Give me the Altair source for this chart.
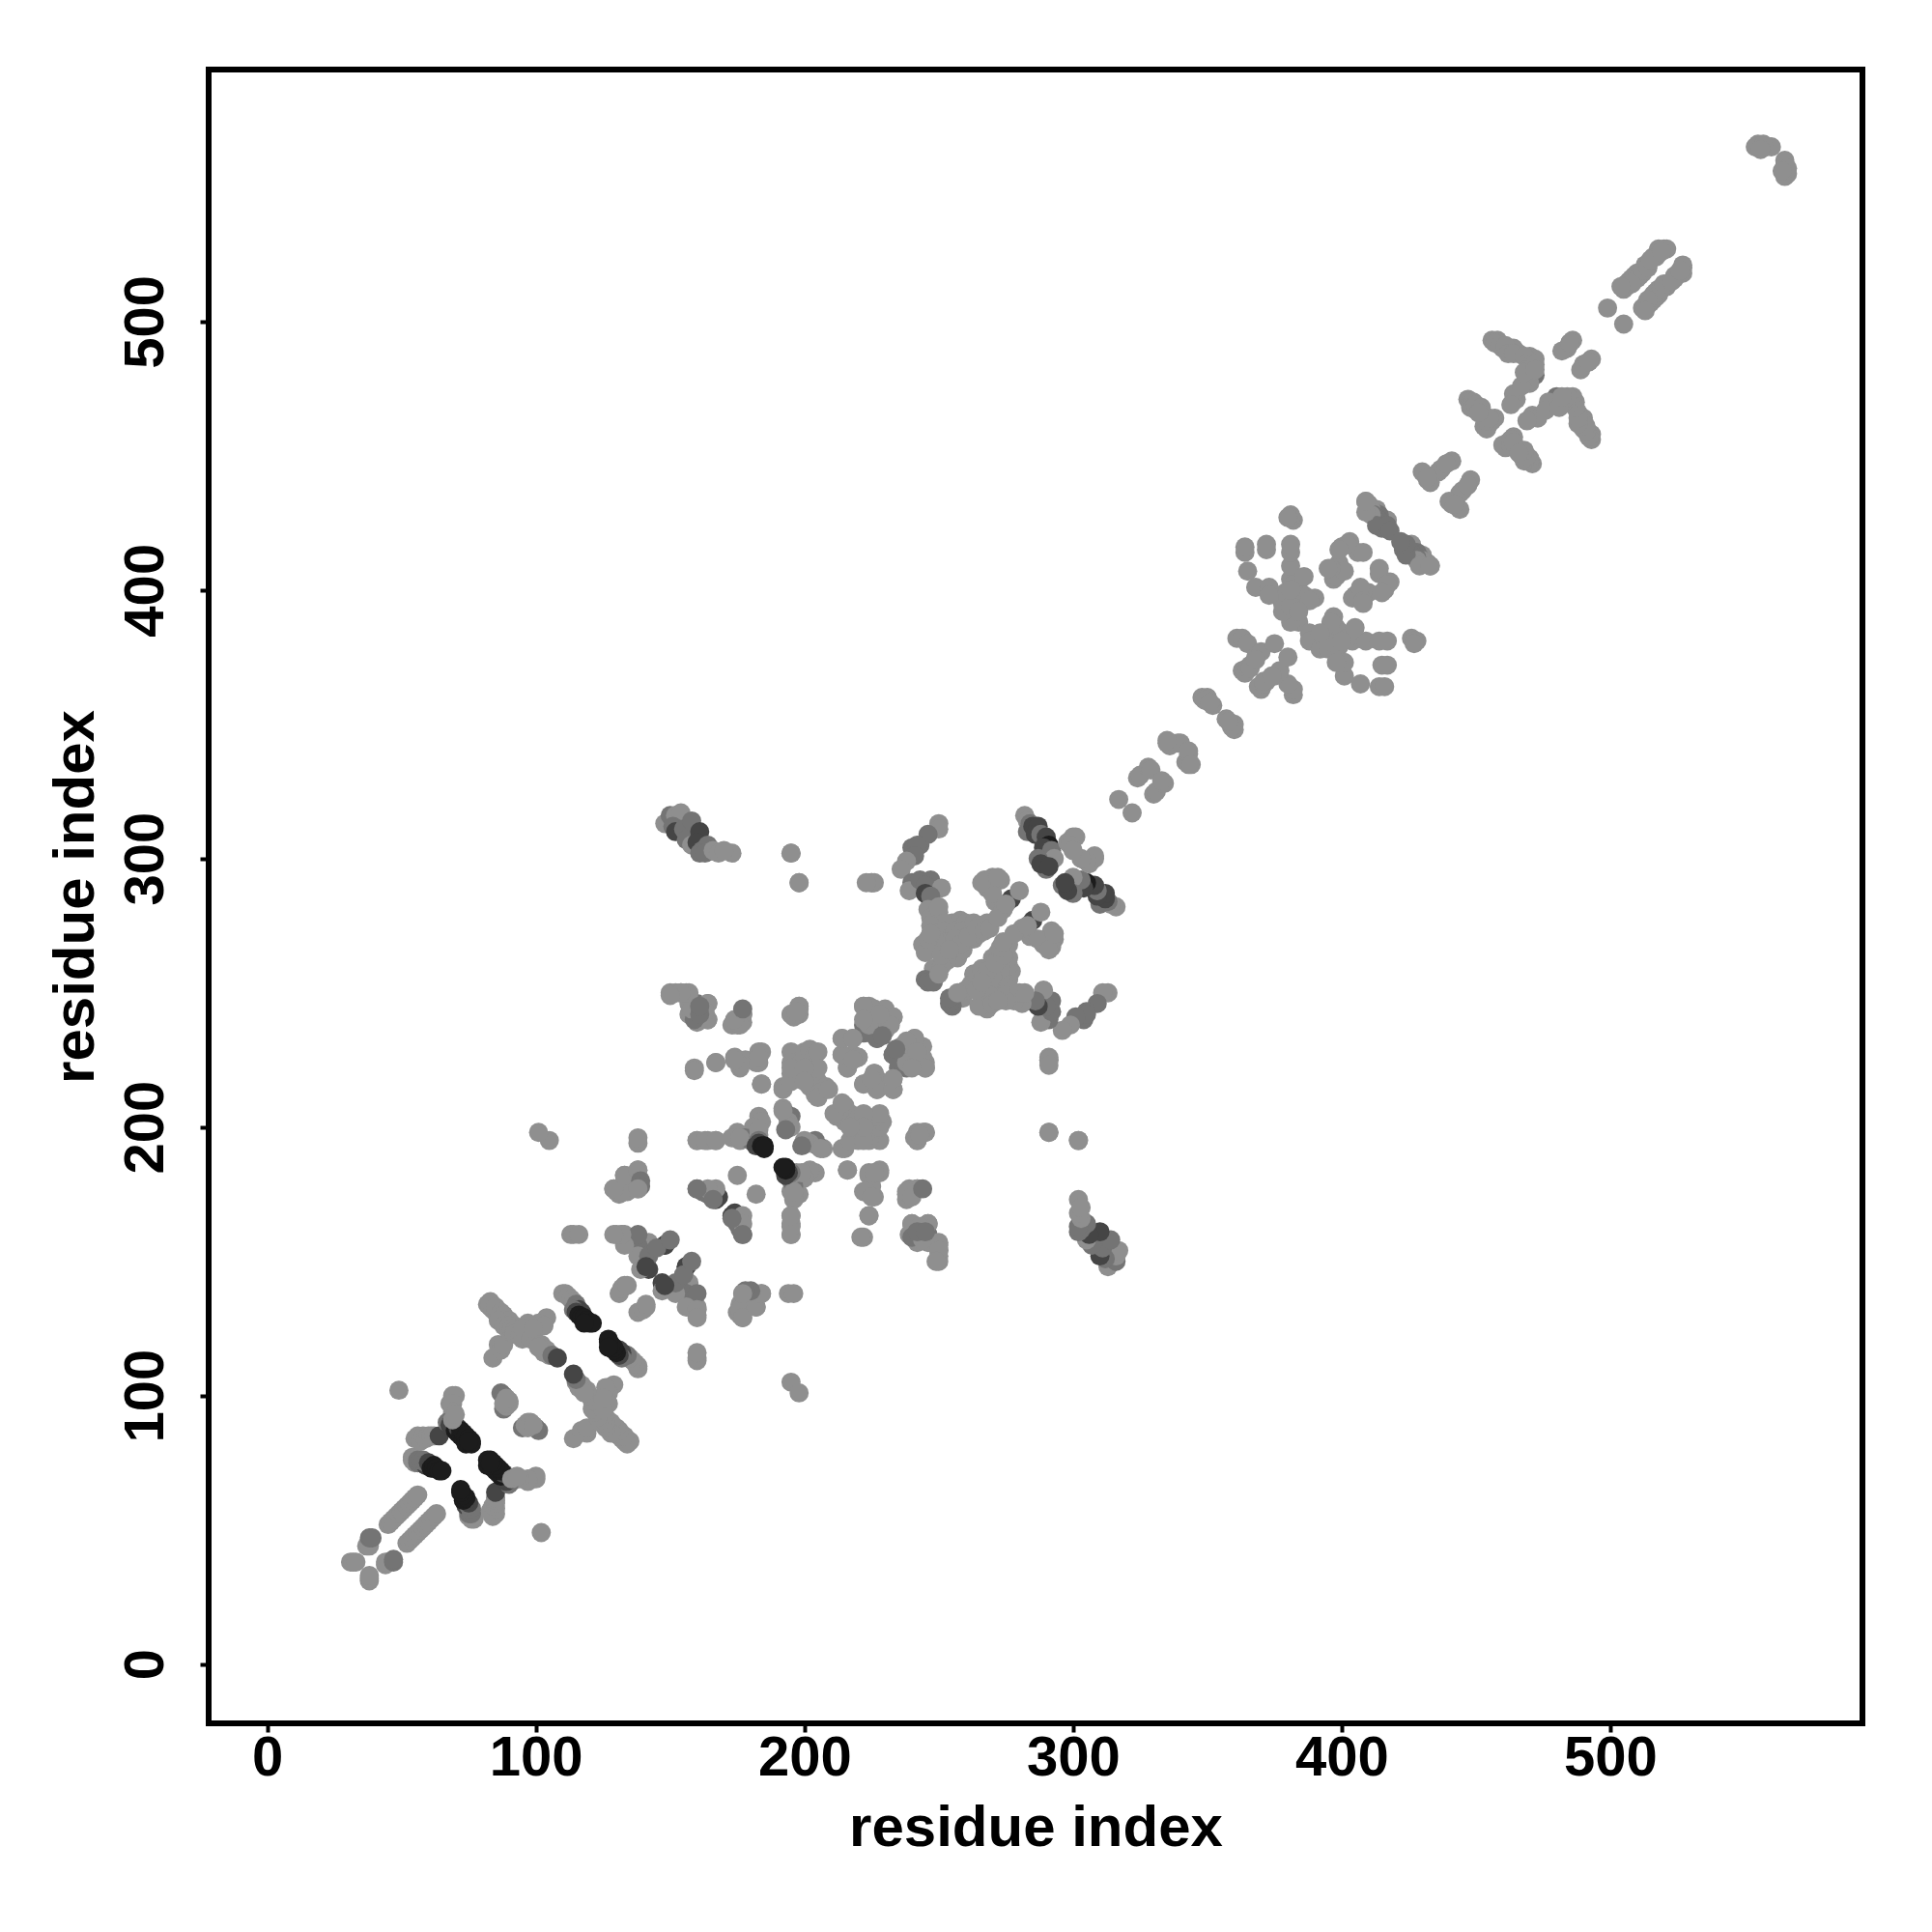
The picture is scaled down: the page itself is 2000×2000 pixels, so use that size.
import altair as alt
import pandas as pd

# (residue i, residue j, strength 0..3); the contact map is symmetric
strand_a = [(31,38,0),(32,38,0),(33,38,0),(37,44,0),(38,44,0),(38,47,1),(39,47,1),
    (45,52,0),(46,53,0),(47,54,0),(48,55,0),(49,56,0),(50,57,0),(51,58,0),(52,59,0),(53,60,0),(54,61,0),(55,62,0),(56,63,0)]
strand_b = [(49,102,0),(54,77,0),(55,77,0),(55,75,0),(54,76,0),(56,75,1),(57,75,1),(58,75,1),(59,74,2),(60,74,2),(56,76,1),(57,76,1),(58,76,1),(59,75,1),(60,75,2),(61,74,2),
    (61,73,3),(62,73,3),(62,74,3),(63,73,3),(64,72,3),(65,72,3),(56,85,0),(55,84,0),(57,83,0),(58,85,0),(59,84,0),(60,85,0),(61,85,0),(62,85,0),(64,85,2),
    (69,100,0),(70,100,0),(68,97,0),(69,97,0),(69,94,0),(68,91,0),(67,90,1),(69,90,1),(68,89,2),(69,88,2),(70,89,2),(70,87,3),(71,86,3),(71,88,2),(72,85,3),(72,87,3),(73,84,3),(73,86,3),(74,83,3),(74,85,3),(74,82,3),(75,84,3),
    (76,83,3),(76,82,3),(75,83,3),(69,91,0),(70,93,0),(87,101,1),(88,100,1),(88,95,1),(89,96,0),(90,98,0),(90,97,0),(88,97,0),(89,99,0)]
cross_a = [(84,114,0),(86,119,0),(87,117,0),(88,119,0),(82,134,0),(83,133,0),(84,132,0),(85,131,0),(86,130,0),(87,129,0),(88,128,0),(89,127,0),
    (83,135,0),(85,133,0),(87,131,0),(88,130,0),(90,128,0),(86,128,0),(88,126,0),(90,124,0),(92,126,0),
    (90,126,0),(91,125,0),(92,124,0),(92,123,0),(94,122,0),(95,121,0),(104,129,0),(101,127,0),(97,127,0),(95,125,0),(98,121,0),(100,120,0),(103,126,0),(99,125,0),
    (102,119,0),(104,117,0),(105,115,0),(103,116,0),(101,118,0),(106,115,1),(108,114,2),
    (110,138,0),(111,138,0),(112,137,0),(113,136,0),(114,135,0),(115,134,1),(116,132,2),(117,131,2),(114,132,1),(115,131,2),(116,130,3),(117,129,3),(118,129,3),(119,128,3),(120,127,3),(121,127,3),(118,127,3),
    (113,160,0),(114,160,0),(116,160,0),(130,160,0),(132,160,0),(133,160,0),(138,159,1),(133,157,0),(142,157,0),(148,156,2),(138,156,1),
    (139,154,1),(141,152,1),(138,152,0),(142,147,2),(139,147,0),(156,148,2),(133,141,0),(131,138,0),(132,140,0),(134,141,0),
    (142,152,1),(141,148,2),(138,160,1),(133,156,0),(132,160,0),(129,160,0),(145,155,1),(150,158,1)]
cross_b = [(177,138,0),(180,138,0),(184,138,0),(194,138,0),(196,138,0),(175,131,0),(177,129,0),(182,133,0),(180,137,1),(178,137,0),(176,134,0),
    (105,195,0),(101,198,0),(130,176,0),(132,176,0),(129,177,0),(133,182,0),(138,184,0),(139,180,1),(139,178,1),(138,177,0),
    (160,177,1),(162,176,1),(168,174,2),(165,176,0),(164,175,1),(175,182,0),(167,173,2),(167,177,0),(164,177,0),(160,177,1),(166,173,1),
    (167,195,0),(164,195,0),(160,195,0)]
far_a = [(148,313,0),(150,316,1),(152,316,0),(154,317,0),(151,312,1),(152,310,2),(155,311,1),(158,314,1),(156,307,1),(158,305,0),(161,310,2),
    (160,306,2),(162,303,1),(164,305,1),(161,302,1),(163,302,1),(166,303,0),(168,302,0),(173,302,0),(170,303,0),
    (195,302,0),(198,291,0),(225,291,0),(226,291,0)]
core_a = [(250,313,0),(250,311,0),(246,309,1),(243,305,1),(240,304,1),(242,305,1),(241,301,1),(238,299,0),(236,296,0),(240,291,1),(239,288,0),
    (243,292,1),(247,292,1),(245,290,1),(251,289,0),(247,284,1),(245,287,2),(247,286,1),(246,281,0),(247,278,0),(250,280,0),(248,276,0),(250,282,0),
    (255,276,0),(252,276,0),(258,277,0),(260,276,0),(263,276,0),(265,275,0),(268,276,0),(247,275,0),(249,272,0),(252,273,0),(255,271,0),(258,271,0),
    (244,268,0),(245,265,0),(251,267,0),(253,269,0),(256,267,0),(260,269,0),(263,270,0),(265,272,0),(255,264,0),(257,263,0),(259,266,0),(253,262,0),
    (248,259,0),(251,260,0),(245,255,1),(246,254,1),(248,254,1),(250,257,0),
    (256,273,0),(259,273,0),(262,272,0),(254,269,0),(256,270,0),(258,268,0),(261,271,0),(249,269,0),(251,264,0),(254,266,0),(246,270,0),(247,272,0),(264,274,0),(267,273,0),(269,274,0),
    (267,292,0),(270,293,0),(273,292,0),(268,289,0),(271,284,0),(270,287,0),(274,281,0),(272,278,0),(277,285,2),(280,288,0),(275,283,0),(266,291,0),(272,293,0),
    (282,316,0),(283,314,0),(284,313,1),(283,310,1),(285,312,2),(287,312,2),(286,309,2),(288,309,1),(290,308,2),(291,305,3),(289,304,2),(292,303,1),
    (293,300,0),(287,300,1),(290,296,1),(288,298,2),(291,297,2),(300,308,0),(299,305,0),(298,306,0),(308,301,0),(305,299,0),(303,300,0)]
mid_a = [(150,250,0),(152,250,0),(154,250,0),(156,250,0),(157,246,0),(160,246,1),(164,246,1),(157,242,0),(160,239,0),(162,241,0),(164,240,0),(158,243,0),
    (177,242,1),(175,238,0),(176,240,0),(173,238,0),(177,239,0),(195,242,0),(198,245,0),(198,242,0),(196,241,0),
    (159,222,0),(167,224,0),(174,226,0),(176,222,0),(178,225,0),(183,228,0),(182,224,0),(184,216,0),(192,215,0),(195,228,0),(195,224,0),(195,220,0),(198,223,0),
    (200,228,0),(202,229,0),(204,227,0),(204,222,0),(200,218,0),(202,215,0),(205,217,0),(208,215,0),(204,212,0),(206,213,0),(200,221,0),(197,219,0),
    (192,214,0),(195,217,0),(195,222,0),(205,228,0),(205,222,0),(205,211,0),(209,214,0),(200,222,0),(200,217,0),
    (222,245,0),(224,245,0),(226,244,0),(230,244,0),(233,241,0),(228,239,0),(225,240,0),(222,238,1),(224,236,1),(227,233,1),(222,235,1),
    (214,233,0),(218,233,0),(214,227,0),(220,226,0),(216,222,0),(218,227,0),(226,220,0),(222,216,0),(227,214,0),(225,218,0),(233,214,0),(233,218,0),
    (241,233,0),(236,230,0),(238,232,0),(233,227,1),(235,225,1),(238,224,0),(244,225,0),(245,222,0),(242,228,0),(240,222,0),(234,229,1)]
mid_b = [(192,207,0),(194,203,1),(193,205,1),(195,204,1),(183,204,0),(184,202,0),(181,200,0),(175,198,0),(173,196,0),(176,195,0),(160,195,0),(163,195,0),(167,195,0),
    (180,195,1),(178,196,1),(176,196,0),(183,197,0),(183,199,0),(194,202,0),(192,206,0),(195,200,0),(193,199,1),
    (198,244,0),(195,242,0),(198,245,0),(197,243,0),(225,291,0),(223,291,0),(198,291,0),(195,302,0),
    (216,184,0),(224,183,0),(228,184,0),(226,183,0),(223,176,0),(225,174,0),(224,167,0),(221,159,0),(242,177,0),(238,176,0),(240,174,0),(244,177,1),
    (240,164,0),(246,164,0),(243,163,0),(240,159,1),(244,158,0),(250,157,0),(250,154,0),(249,150,0),(242,161,1),(245,161,1),
    (183,195,1),(182,193,2),(183,194,2),(184,193,3),(185,193,3),(185,192,3)]
upper_a = [(317,322,0),(324,330,0),(325,331,0),(328,334,0),(329,333,0),(335,343,0),(336,342,0),(339,343,0),(340,343,0),(335,344,0),
    (348,360,0),(350,360,0),(352,357,0),(349,359,0),(351,358,0)]
upper_b = [(361,382,0),(363,382,0),(365,380,0),(363,370,0),(364,369,0),(365,371,0),(366,372,0),(368,375,0),(370,377,0),(366,371,0),(375,380,0),(368,374,0),
    (384,388,0),(381,388,0),(378,392,0),(380,397,0),(386,398,0),(390,397,0),(385,395,0),(383,393,0),(381,404,0),(381,409,0),(381,414,0),(381,417,0),(381,428,0),(382,426,0),
    (383,398,0),(384,400,0),(388,396,0),(382,402,0),(378,395,0),(379,399,0),(381,394,0),(384,392,0),
    (364,414,0),(364,416,0),(372,415,0),(372,417,0),(365,407,0),(368,401,0),(373,401,0),(373,398,0),(386,405,0),(381,400,0),
    (398,407,0),(400,416,0),(403,418,0),(406,414,0),(397,404,0),(399,410,0),(398,405,0),(401,407,0),(396,408,0),(408,414,0),(402,417,0),(399,415,0),(395,408,0),
    (409,433,0),(413,430,0),(417,426,0),(413,426,1),(410,431,0),(415,423,1),(414,428,1),(412,429,1),(416,424,1),(410,432,0),(411,430,0),(412,428,1),(414,426,1),(415,425,1),(411,428,0),(413,424,1),
    (417,424,1),(418,422,1),(409,429,0),(409,433,0),(381,427,0),(380,427,0)]
upper_c = [(431,443,0),(432,441,0),(430,444,0),(436,444,0),(441,448,0),(433,440,0),(437,445,0),(432,442,0),(439,447,0),
    (447,471,0),(448,470,0),(449,470,0),(451,468,0),(453,465,0),(457,464,0),(453,461,0),(455,462,0),(454,460,0),(450,467,0),(456,463,0),
    (448,468,0),(449,468,0),(450,469,0),(452,466,0),(454,463,0),(455,464,0),(452,468,0),(451,466,0),
    (456,493,0),(458,493,0),(460,490,0),(464,490,0),(466,488,0),(470,487,0),(472,486,0),(472,480,1),(469,479,0),(465,471,0),(464,473,0),(463,469,0),(470,477,0),(467,476,0),
    (457,492,0),(459,491,0),(461,491,0),(462,488,0),(464,488,0),(468,487,0),(470,485,0),(471,484,0),(471,482,0),(469,482,0),(468,481,0),(472,484,0),(472,482,0),
    (485,492,0),(484,490,0),(489,482,0),(486,493,0),(492,485,0),
    (499,505,0),(505,512,0),(506,514,0),(507,515,0),(509,517,0),(510,518,0),(511,517,0),(513,521,0),(514,521,0),(516,524,0),(518,527,0),(520,527,0),(521,527,0),(517,524,0),(512,518,0),
    (506,513,0),(508,516,0),(510,516,0),(512,519,0),(514,520,0),(515,523,0),(519,526,0),(508,514,0),(504,513,0),
    (555,566,0),(556,565,0),(558,565,0),(560,565,0),(554,565,0),(557,566,0),(556,564,0)]
regions = [strand_a, strand_b, cross_a, cross_b, far_a, mid_a, mid_b, core_a, upper_a, upper_b, upper_c]

x_ticks = [0, 100, 200, 300, 400, 500]
title_text = "residue index"
shade_levels = [0, 1, 2, 3]
shade_greys = ["#8f8f8f", "#747474", "#454545", "#1c1c1c"]

rows = []
for region in regions:
    for i, j, s in region:
        rows.append({"x": i, "y": j, "s": s})
        rows.append({"x": j, "y": i, "s": s})
df = pd.DataFrame(rows)

font = "Liberation Sans"
chart = alt.Chart(df).mark_circle(size=395, opacity=1).encode(
    x=alt.X("x:Q", scale=alt.Scale(domain=[-21.83, 593.9], nice=False, zero=False),
            axis=alt.Axis(values=x_ticks, title=title_text, grid=False, domain=False, tickSize=9, tickWidth=4, tickColor="black",
                          labelFont=font, labelFontWeight="bold", labelFontSize=58, labelColor="black", labelPadding=-2,
                          titleFont=font, titleFontWeight="bold", titleFontSize=60, titleColor="black", titlePadding=14)),
    y=alt.Y("y:Q", scale=alt.Scale(domain=[-22.05, 593.8], nice=False, zero=False),
            axis=alt.Axis(values=x_ticks, title=title_text, grid=False, domain=False, tickSize=9, tickWidth=4, tickColor="black",
                          labelAngle=270, labelAlign="center", labelBaseline="bottom",
                          labelFont=font, labelFontWeight="bold", labelFontSize=58, labelColor="black", labelPadding=27,
                          titleFont=font, titleFontWeight="bold", titleFontSize=60, titleColor="black", titlePadding=13)),
    color=alt.Color("s:Q", scale=alt.Scale(domain=shade_levels, range=shade_greys), legend=None),
).properties(width=1712, height=1712, background="white", padding={"left": 40, "top": 64, "right": 5, "bottom": 5},
             view=alt.ViewConfig(stroke="black", strokeWidth=6))

chart.save("out.html", embed_options={"renderer": "svg", "actions": False})
